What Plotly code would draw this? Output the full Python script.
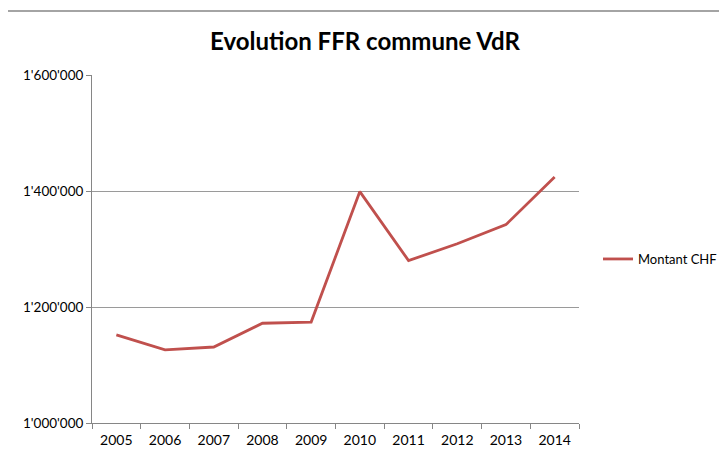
import plotly.graph_objects as go

years = ["2005", "2006", "2007", "2008", "2009", "2010", "2011", "2012", "2013", "2014"]
montant_chf = [1152000, 1126000, 1131000, 1172000, 1174000, 1399000, 1280000, 1309000, 1342000, 1424000]
y_tick_vals = [1000000, 1200000, 1400000, 1600000]
y_tick_text = ["1'000'000", "1'200'000", "1'400'000", "1'600'000"]

# page body offset (browser default margin)
OX, OY = 8, 8
W, H = 727, 455
# desired screen positions of plot area
SL, SR, ST, SB = 92, 579, 75, 423
L, T = SL - OX, ST - OY
R = W - (SR - OX)
B = H - (SB - OY)
pw, ph = SR - SL, SB - ST

def px_x(x):
    return (x - SL) / pw

def px_y(y):
    return (SB - y) / ph

fig = go.Figure()
fig.add_trace(go.Scatter(
    x=years, y=montant_chf, mode="lines", name="Montant CHF",
    line=dict(color="#C0504D", width=2.8),
))

fig.update_layout(
    width=W, height=H,
    margin=dict(l=L, r=R, t=T, b=B),
    paper_bgcolor="white", plot_bgcolor="white",
    font=dict(family="Lato, sans-serif", size=13, color="#000000"),
    title=dict(text="<b>Evolution FFR commune VdR</b>", x=px_x(365), xref="paper",
               xanchor="center", y=1 - (42 - OY) / H, yanchor="middle",
               font=dict(family="Lato, sans-serif", size=24, color="#000000")),
    showlegend=True,
    legend=dict(x=px_x(598), y=px_y(259), xref="paper", yref="paper",
                xanchor="left", yanchor="middle", bgcolor="rgba(0,0,0,0)",
                font=dict(size=13, color="#000000"), itemwidth=30),
    xaxis=dict(type="category", range=[-0.5, 9.5], showgrid=False,
               showline=True, linecolor="#868686", linewidth=1,
               ticks="outside", tickson="boundaries", ticklen=5, tickcolor="#868686",
               ticklabelstandoff=4,
               tickfont=dict(size=14, color="#000000")),
    yaxis=dict(range=[1000000, 1600000], tickvals=y_tick_vals, ticktext=y_tick_text,
               showgrid=True, gridcolor="#9a9a9a", gridwidth=1,
               showline=True, linecolor="#868686", linewidth=1,
               ticks="outside", ticklen=5, tickcolor="#868686", zeroline=False,
               tickfont=dict(size=13.5, color="#000000")),
    shapes=[dict(type="rect", xref="paper", yref="paper",
                 x0=px_x(6.5), x1=px_x(760), y0=px_y(480), y1=px_y(11),
                 line=dict(color="#868686", width=1.5), fillcolor="rgba(0,0,0,0)",
                 layer="below")],
)

fig.write_html("out.html")
